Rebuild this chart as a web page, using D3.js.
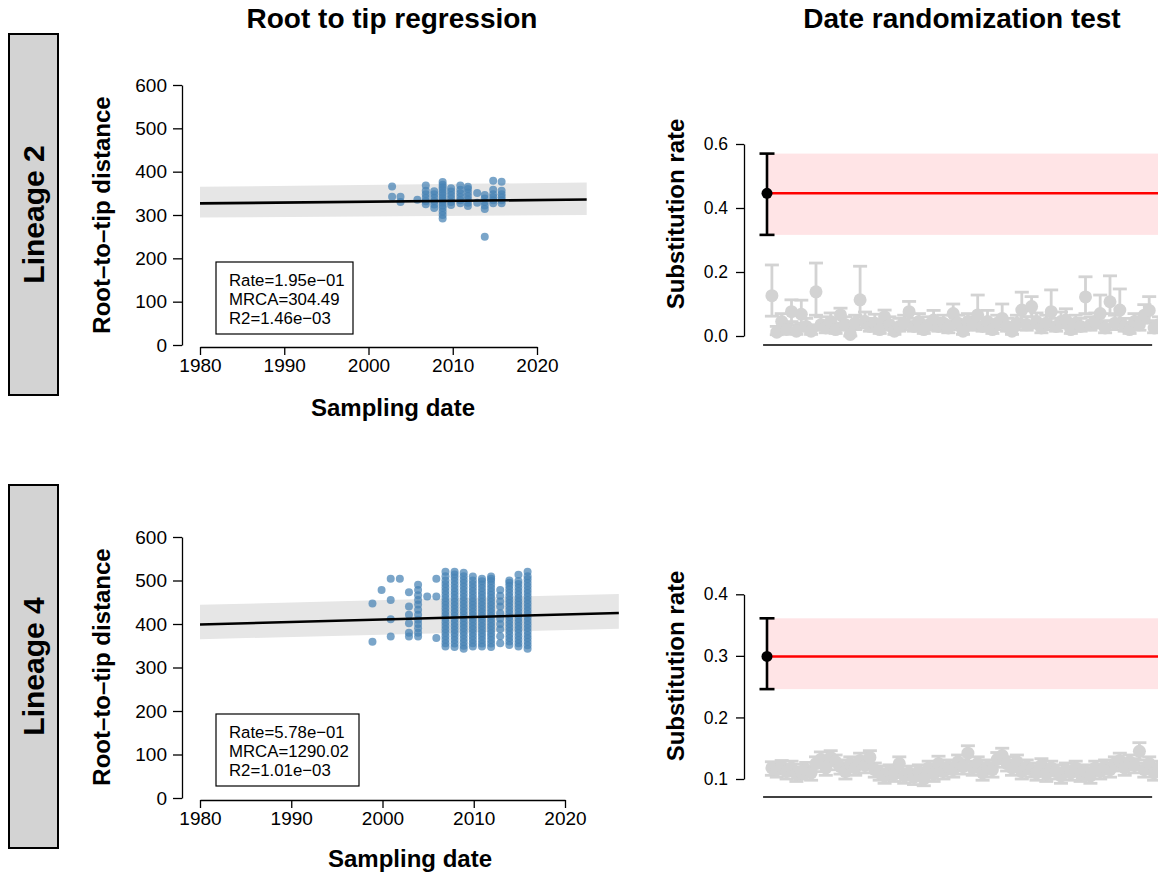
<!DOCTYPE html>
<html>
<head>
<meta charset="utf-8">
<script src="https://cdn.jsdelivr.net/npm/d3@7"></script>
<style>
  body { margin: 0; background: #fff; }
  text { font-family: "Liberation Sans", Arial, Helvetica, sans-serif; }
</style>
</head>
<body>
<div id="chart"></div>
<script>
// ---- data ----
const lineageNames = ['Lineage 2', 'Lineage 4'];
const panelTitles = ['Root to tip regression', 'Date randomization test'];

const yearTicks = [1980, 1990, 2000, 2010, 2020];
const distTicks = [0, 100, 200, 300, 400, 500, 600];
const l2RateTicks = [0.0, 0.2, 0.4, 0.6];
const l4RateTicks = [0.1, 0.2, 0.3, 0.4];

// regression summaries
const l2Stats = ['Rate=1.95e\u221201', 'MRCA=304.49', 'R2=1.46e\u221203'];
const l4Stats = ['Rate=5.78e\u221201', 'MRCA=1290.02', 'R2=1.01e\u221203'];
const l2Fit = { rate: 0.195, mrca: 304.49 };
const l4Fit = { rate: 0.578, mrca: 1290.02 };
const fitYears = [1980, 2025.9];
// confidence band [lo, hi] at both ends of fitYears
const l2Band = [[294, 365], [300, 375]];
const l4Band = [[365, 444], [389, 469]];

// root-to-tip points, one array of distances per sampling date
const l2Years = [2002.8, 2003.8, 2005.8, 2006.8, 2007.8, 2008.8, 2009.8, 2010.9, 2011.8, 2012.9, 2013.8, 2014.8, 2015.8];
const l2Dist = [
  [342, 366],
  [330, 342],
  [335],
  [325, 332, 340, 348, 356, 368],
  [316, 324, 332, 340, 348, 355],
  [292, 300, 308, 316, 322, 328, 334, 340, 346, 352, 358, 364, 370, 376],
  [323, 330, 338, 346, 354, 362],
  [327, 334, 342, 350, 358, 368],
  [321, 328, 336, 344, 352, 360, 365],
  [328, 351],
  [250, 314, 322, 330, 338, 346],
  [327, 334, 341, 348, 358, 379],
  [327, 334, 341, 348, 356, 377]
];

const l4Years = [1998.9, 1999.9, 2000.9, 2001.9, 2002.9, 2003.9, 2004.9, 2005.9, 2006.9, 2007.9, 2008.9, 2009.9, 2010.9, 2011.9, 2012.9, 2013.9, 2014.9, 2015.9];
const l4Dist = [
  [359, 447],
  [478],
  [371, 411, 455, 504],
  [504],
  [371, 380, 402, 421, 440, 473],
  [371, 380, 390, 400, 410, 421, 433, 445, 455, 466, 478, 490],
  [463],
  [368, 463, 504],
  [348, 356, 364, 372, 380, 388, 396, 404, 412, 420, 428, 436, 444, 452, 460, 468, 476, 484, 492, 500, 510, 520],
  [347, 355, 363, 371, 379, 387, 395, 403, 411, 419, 427, 435, 443, 451, 459, 467, 475, 483, 491, 499, 507, 514, 520],
  [343, 350, 358, 366, 374, 382, 390, 398, 406, 414, 422, 430, 438, 446, 454, 462, 470, 478, 486, 494, 502, 510, 518],
  [348, 356, 364, 372, 380, 388, 396, 404, 412, 420, 428, 436, 444, 452, 460, 468, 476, 484, 492, 500, 509],
  [348, 355, 363, 371, 379, 387, 395, 403, 411, 419, 427, 435, 443, 451, 459, 467, 475, 483, 491, 498, 504],
  [347, 355, 363, 371, 379, 387, 395, 403, 411, 419, 427, 435, 443, 451, 459, 467, 475, 483, 491, 499, 504, 509],
  [356, 372, 388, 400, 412, 425, 440, 452, 465, 478],
  [352, 360, 368, 376, 384, 392, 400, 408, 416, 424, 432, 440, 448, 456, 464, 472, 480, 488, 495, 500],
  [348, 356, 364, 372, 380, 388, 396, 404, 412, 420, 428, 436, 444, 452, 460, 468, 476, 484, 492, 499, 513],
  [343, 351, 359, 367, 375, 383, 391, 399, 407, 415, 423, 431, 439, 447, 455, 463, 471, 479, 487, 495, 503, 510, 520]
];

// observed substitution rate [mean, lo, hi]
const l2Observed = [0.446, 0.316, 0.570];
const l4Observed = [0.299, 0.246, 0.361];

// rates from date-randomized replicates [mean, lo, hi]
const l2Random = [
  [0.126, 0.062, 0.222], [0.012, 0.004, 0.030], [0.045, 0.025, 0.070], [0.020, 0.008, 0.040],
  [0.076, 0.045, 0.113], [0.015, 0.005, 0.035], [0.068, 0.040, 0.112], [0.030, 0.015, 0.055],
  [0.015, 0.005, 0.035], [0.138, 0.065, 0.228], [0.035, 0.018, 0.060], [0.025, 0.010, 0.048],
  [0.045, 0.025, 0.072], [0.020, 0.008, 0.040], [0.066, 0.040, 0.087], [0.035, 0.018, 0.060],
  [0.005, 0.000, 0.020], [0.040, 0.020, 0.065], [0.113, 0.060, 0.218], [0.045, 0.025, 0.075],
  [0.030, 0.015, 0.055], [0.040, 0.020, 0.068], [0.020, 0.008, 0.040], [0.060, 0.035, 0.081],
  [0.035, 0.018, 0.060], [0.015, 0.005, 0.035], [0.030, 0.015, 0.055], [0.040, 0.020, 0.065],
  [0.076, 0.045, 0.108], [0.030, 0.015, 0.055], [0.045, 0.025, 0.070], [0.020, 0.008, 0.040],
  [0.035, 0.018, 0.060], [0.050, 0.030, 0.080], [0.030, 0.015, 0.055], [0.040, 0.020, 0.065],
  [0.025, 0.010, 0.048], [0.070, 0.040, 0.100], [0.040, 0.020, 0.065], [0.015, 0.005, 0.035],
  [0.045, 0.025, 0.070], [0.035, 0.018, 0.060], [0.066, 0.040, 0.128], [0.030, 0.015, 0.055],
  [0.045, 0.025, 0.080], [0.020, 0.008, 0.040], [0.040, 0.020, 0.065], [0.055, 0.030, 0.100],
  [0.030, 0.015, 0.055], [0.015, 0.005, 0.035], [0.040, 0.020, 0.065], [0.081, 0.050, 0.137],
  [0.035, 0.018, 0.060], [0.092, 0.060, 0.123], [0.045, 0.025, 0.072], [0.025, 0.010, 0.048],
  [0.040, 0.020, 0.065], [0.076, 0.040, 0.144], [0.030, 0.015, 0.055], [0.045, 0.025, 0.075],
  [0.050, 0.030, 0.085], [0.020, 0.008, 0.040], [0.040, 0.020, 0.065], [0.030, 0.015, 0.055],
  [0.122, 0.070, 0.185], [0.035, 0.018, 0.060], [0.045, 0.025, 0.072], [0.070, 0.040, 0.128],
  [0.025, 0.010, 0.048], [0.107, 0.070, 0.188], [0.040, 0.020, 0.065], [0.081, 0.050, 0.147],
  [0.030, 0.015, 0.055], [0.020, 0.008, 0.040], [0.045, 0.025, 0.070], [0.035, 0.018, 0.060],
  [0.065, 0.040, 0.098], [0.080, 0.045, 0.123], [0.025, 0.010, 0.048], [0.035, 0.018, 0.060]
];
const l4Random = [
  [0.118, 0.106, 0.128], [0.115, 0.103, 0.126], [0.120, 0.108, 0.130], [0.112, 0.100, 0.123],
  [0.118, 0.106, 0.129], [0.108, 0.096, 0.119], [0.112, 0.100, 0.124], [0.115, 0.103, 0.127],
  [0.110, 0.098, 0.121], [0.125, 0.112, 0.136], [0.132, 0.119, 0.144], [0.118, 0.106, 0.129],
  [0.135, 0.122, 0.146], [0.128, 0.115, 0.139], [0.120, 0.108, 0.131], [0.112, 0.100, 0.123],
  [0.125, 0.113, 0.136], [0.118, 0.106, 0.129], [0.130, 0.117, 0.142], [0.122, 0.110, 0.133],
  [0.135, 0.122, 0.146], [0.115, 0.103, 0.126], [0.110, 0.098, 0.121], [0.105, 0.093, 0.116],
  [0.112, 0.100, 0.123], [0.108, 0.096, 0.119], [0.125, 0.112, 0.136], [0.105, 0.093, 0.116],
  [0.110, 0.098, 0.121], [0.103, 0.091, 0.114], [0.112, 0.100, 0.123], [0.100, 0.089, 0.111],
  [0.118, 0.106, 0.129], [0.108, 0.096, 0.119], [0.125, 0.112, 0.137], [0.112, 0.100, 0.123],
  [0.120, 0.108, 0.131], [0.115, 0.103, 0.126], [0.128, 0.115, 0.139], [0.120, 0.108, 0.131],
  [0.142, 0.128, 0.154], [0.118, 0.106, 0.129], [0.125, 0.113, 0.136], [0.110, 0.098, 0.121],
  [0.120, 0.108, 0.131], [0.115, 0.103, 0.126], [0.132, 0.119, 0.143], [0.138, 0.125, 0.150],
  [0.125, 0.113, 0.136], [0.118, 0.106, 0.129], [0.128, 0.115, 0.139], [0.112, 0.100, 0.123],
  [0.120, 0.108, 0.131], [0.115, 0.103, 0.126], [0.110, 0.098, 0.121], [0.122, 0.110, 0.133],
  [0.108, 0.096, 0.119], [0.118, 0.106, 0.129], [0.112, 0.100, 0.123], [0.105, 0.093, 0.116],
  [0.115, 0.103, 0.126], [0.110, 0.098, 0.121], [0.118, 0.106, 0.129], [0.108, 0.096, 0.119],
  [0.112, 0.100, 0.123], [0.105, 0.093, 0.116], [0.118, 0.106, 0.129], [0.112, 0.100, 0.123],
  [0.120, 0.108, 0.131], [0.115, 0.103, 0.126], [0.125, 0.113, 0.136], [0.130, 0.117, 0.142],
  [0.118, 0.106, 0.129], [0.128, 0.115, 0.139], [0.122, 0.110, 0.133], [0.145, 0.131, 0.159],
  [0.115, 0.103, 0.126], [0.125, 0.113, 0.136], [0.110, 0.098, 0.121], [0.118, 0.106, 0.129]
];

// ---- drawing ----
const W = 1158, H = 875;
const svg = d3.select('#chart').append('svg')
  .attr('width', W).attr('height', H);

const POINT_BLUE = '#4682b4';
const GRAY = '#d3d3d3';

// panel titles
svg.append('text').attr('x', 392).attr('y', 28)
  .attr('text-anchor', 'middle').style('font-size', '28px').style('font-weight', 'bold')
  .text(panelTitles[0]);
svg.append('text').attr('x', 962).attr('y', 28)
  .attr('text-anchor', 'middle').style('font-size', '28px').style('font-weight', 'bold')
  .text(panelTitles[1]);

function styleAxis(g, size) {
  g.selectAll('path.domain').attr('stroke', '#000').attr('stroke-width', 1.3);
  g.selectAll('.tick line').attr('stroke', '#000').attr('stroke-width', 1.3);
  g.selectAll('.tick text')
    .attr('fill', '#000')
    .style('font-size', size + 'px')
    .style('font-family', '"Liberation Sans", Arial, sans-serif');
}

function drawLineageBox(y0, y1, label) {
  svg.append('rect')
    .attr('x', 9).attr('y', y0).attr('width', 49).attr('height', y1 - y0)
    .attr('fill', GRAY).attr('stroke', '#000').attr('stroke-width', 2);
  svg.append('text')
    .attr('transform', `translate(44, ${(y0 + y1) / 2}) rotate(-90)`)
    .attr('text-anchor', 'middle')
    .style('font-size', '30px').style('font-weight', 'bold')
    .text(label);
}

function drawRtt(p) {
  const x = d3.scaleLinear().domain([1980, 2020]).range(p.xRange);
  const y = d3.scaleLinear().domain([0, 600]).range(p.yRange);
  const g = svg.append('g');

  // confidence band
  const bandPts = [
    [x(fitYears[0]), y(p.band[0][0])],
    [x(fitYears[1]), y(p.band[1][0])],
    [x(fitYears[1]), y(p.band[1][1])],
    [x(fitYears[0]), y(p.band[0][1])]
  ];
  g.append('path')
    .attr('d', 'M' + bandPts.join('L') + 'Z')
    .attr('fill', '#e6e6e6');

  // points
  const pts = [];
  p.years.forEach((yr, i) => p.dist[i].forEach(v => pts.push({ yr, v })));
  g.selectAll('circle.pt').data(pts).enter().append('circle')
    .attr('class', 'pt')
    .attr('cx', d => x(d.yr))
    .attr('cy', d => y(d.v))
    .attr('r', 4)
    .attr('fill', POINT_BLUE)
    .attr('fill-opacity', 0.72);

  // regression line
  const line = d3.line().x(d => x(d)).y(d => y(p.fit.rate * (d - p.fit.mrca)));
  g.append('path').attr('d', line(fitYears))
    .attr('fill', 'none').attr('stroke', '#000').attr('stroke-width', 2.6);

  // axes
  const yAx = g.append('g').attr('transform', `translate(${p.axisX},0)`)
    .call(d3.axisLeft(y).tickValues(distTicks).tickSize(9).tickSizeOuter(0).tickPadding(6));
  styleAxis(yAx, 19);
  const xAx = g.append('g').attr('transform', `translate(0,${p.axisY})`)
    .call(d3.axisBottom(x).tickValues(yearTicks).tickSize(8).tickSizeOuter(0).tickFormat(d3.format('d')).tickPadding(4));
  styleAxis(xAx, 19);

  // axis titles
  g.append('text')
    .attr('transform', `translate(110, ${p.yTitleY}) rotate(-90)`)
    .attr('text-anchor', 'middle')
    .style('font-size', '24px').style('font-weight', 'bold')
    .text('Root\u2013to\u2013tip distance');
  g.append('text')
    .attr('x', p.xTitleX).attr('y', p.xTitleY)
    .attr('text-anchor', 'middle')
    .style('font-size', '24px').style('font-weight', 'bold')
    .text('Sampling date');

  // stats box
  g.append('rect')
    .attr('x', 216).attr('y', p.boxY).attr('width', p.boxW).attr('height', 72)
    .attr('fill', '#fff').attr('stroke', '#000').attr('stroke-width', 1.2);
  p.stats.forEach((s, i) => {
    g.append('text')
      .attr('x', 229).attr('y', p.boxY + 24 + i * 19)
      .style('font-size', '16.8px')
      .text(s);
  });
}

function drawRand(p) {
  const x = d3.scaleLinear().domain([0, 80]).range([767, 1159]);
  const y = d3.scaleLinear().domain(d3.extent(p.ticks)).range(p.yRange);
  const g = svg.append('g');
  const obs = p.observed;

  // observed interval band and mean line
  g.append('rect')
    .attr('x', x(0)).attr('width', x(90) - x(0))
    .attr('y', y(obs[2])).attr('height', y(obs[1]) - y(obs[2]))
    .attr('fill', '#ffe4e6');
  g.append('line')
    .attr('x1', x(0)).attr('x2', x(90))
    .attr('y1', y(obs[0])).attr('y2', y(obs[0]))
    .attr('stroke', '#ff0000').attr('stroke-width', 2.5);

  // randomized replicates
  const reps = p.random.map((d, i) => ({ i: i + 1, m: d[0], lo: d[1], hi: d[2] }));
  const cap = 7;
  const bars = g.append('g').attr('stroke', GRAY).attr('stroke-width', 2.8);
  reps.forEach(d => {
    bars.append('line').attr('x1', x(d.i)).attr('x2', x(d.i)).attr('y1', y(d.lo)).attr('y2', y(d.hi));
    bars.append('line').attr('x1', x(d.i) - cap).attr('x2', x(d.i) + cap).attr('y1', y(d.lo)).attr('y2', y(d.lo));
    bars.append('line').attr('x1', x(d.i) - cap).attr('x2', x(d.i) + cap).attr('y1', y(d.hi)).attr('y2', y(d.hi));
  });
  g.selectAll('circle.rep').data(reps).enter().append('circle')
    .attr('class', 'rep')
    .attr('cx', d => x(d.i)).attr('cy', d => y(d.m)).attr('r', 6.5)
    .attr('fill', GRAY);

  // observed point
  const ob = g.append('g').attr('stroke', '#000').attr('stroke-width', 2.6);
  ob.append('line').attr('x1', x(0)).attr('x2', x(0)).attr('y1', y(obs[1])).attr('y2', y(obs[2]));
  ob.append('line').attr('x1', x(0) - 7.5).attr('x2', x(0) + 7.5).attr('y1', y(obs[1])).attr('y2', y(obs[1]));
  ob.append('line').attr('x1', x(0) - 7.5).attr('x2', x(0) + 7.5).attr('y1', y(obs[2])).attr('y2', y(obs[2]));
  g.append('circle').attr('cx', x(0)).attr('cy', y(obs[0])).attr('r', 5.5).attr('fill', '#000');

  // axes
  const yAx = g.append('g').attr('transform', 'translate(744,0)')
    .call(d3.axisLeft(y).tickValues(p.ticks).tickSize(8).tickSizeOuter(0).tickFormat(d3.format('.1f')).tickPadding(8));
  styleAxis(yAx, 17.5);
  g.append('line')
    .attr('x1', x(-0.8)).attr('x2', x(78.6))
    .attr('y1', p.baseY).attr('y2', p.baseY)
    .attr('stroke', '#000').attr('stroke-width', 1.3);

  g.append('text')
    .attr('transform', `translate(684, ${p.titleY}) rotate(-90)`)
    .attr('text-anchor', 'middle')
    .style('font-size', '24px').style('font-weight', 'bold')
    .text('Substitution rate');
}

drawLineageBox(34, 395, lineageNames[0]);
drawLineageBox(485, 848, lineageNames[1]);

drawRtt({
  xRange: [200, 537], yRange: [345, 85], axisX: 182, axisY: 347,
  years: l2Years, dist: l2Dist, fit: l2Fit, band: l2Band, stats: l2Stats,
  yTitleY: 215, xTitleX: 393, xTitleY: 416, boxY: 262, boxW: 137
});
drawRtt({
  xRange: [200, 565], yRange: [798, 537], axisX: 182, axisY: 800,
  years: l4Years, dist: l4Dist, fit: l4Fit, band: l4Band, stats: l4Stats,
  yTitleY: 667, xTitleX: 410, xTitleY: 867, boxY: 714, boxW: 143
});

drawRand({ ticks: l2RateTicks, yRange: [336, 144], observed: l2Observed, random: l2Random, baseY: 345, titleY: 214 });
drawRand({ ticks: l4RateTicks, yRange: [779, 594.3], observed: l4Observed, random: l4Random, baseY: 797, titleY: 666 });
</script>
</body>
</html>
